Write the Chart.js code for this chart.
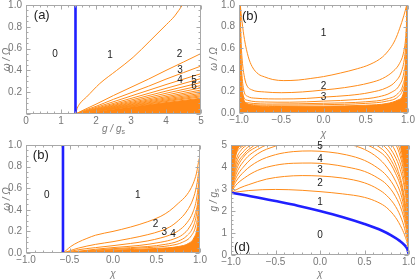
<!DOCTYPE html>
<html><head><meta charset="utf-8">
<script src="https://cdn.jsdelivr.net/npm/chart.js@4/dist/chart.umd.min.js"></script>
<style>
html,body{margin:0;padding:0;background:#fff;}
body{width:415px;height:280px;position:relative;overflow:hidden;}
canvas{position:absolute;}
</style></head><body>
<canvas id="ca" width="207" height="140" style="left:0;top:0"></canvas>
<canvas id="cb" width="208" height="140" style="left:207px;top:0"></canvas>
<canvas id="cc" width="207" height="140" style="left:0;top:140px"></canvas>
<canvas id="cd" width="208" height="140" style="left:207px;top:140px"></canvas>
<script>
// ---------- tick labels ----------
const gTicks = ['0','1','2','3','4','5'];
const wTicksA = ['','0.2','0.4','0.6','0.8','1.0'];
const wTicks = ['0.0','0.2','0.4','0.6','0.8','1.0'];
const chiTicks = ['\u22121.0','\u22120.5','0.0','0.5','1.0'];
const gTicksD = ['0','1','2','3','4','5'];

// ---------- region labels ----------
const aLabels = ['0','1','2','3','4','5','6'];
const bLabels = ['1','2','3'];
const cLabels = ['0','1','2','3','4'];
const dLabels = ['0','1','2','3','4','5'];
const panelTags = ['(a)','(b)','(b)','(d)'];

// ---------- panel (a): omega vs g ----------
const aBlue = [[1.414,0],[1.414,1]];
const a1 = [[1.414,0],[1.46,0.05],[1.55,0.10],[1.73,0.156],[2.11,0.28],[2.59,0.40],[3.06,0.52],[3.54,0.67],[4.01,0.82],[4.25,0.9],[4.47,1.0]];
const a2 = [[1.414,0],[1.6,0.03],[2,0.09],[2.5,0.17],[3,0.245],[3.5,0.32],[4,0.4],[4.5,0.477],[5,0.555]];
const a3 = [[1.414,0],[1.6,0.025],[2,0.07],[2.5,0.135],[3,0.195],[3.5,0.255],[4,0.32],[4.5,0.38],[5,0.44]];
const a4 = [[1.414,0],[2,0.06],[3,0.165],[4,0.27],[5,0.37]];
const a5 = [[1.414,0],[2,0.052],[3,0.143],[4,0.235],[5,0.325]];
const a6 = [[1.414,0],[2,0.046],[3,0.128],[4,0.21],[5,0.29]];
const a7 = [[1.414,0],[2,0.042],[3,0.116],[4,0.19],[5,0.262]];
const a8 = [[1.414,0],[2,0.039],[3,0.106],[4,0.173],[5,0.24]];
const a9 = [[1.414,0],[2,0.036],[3,0.098],[4,0.159],[5,0.22]];
const a10 = [[1.414,0],[2,0.033],[3,0.091],[4,0.148],[5,0.205]];
const a11 = [[1.414,0],[2,0.031],[3,0.085],[4,0.138],[5,0.19]];
const a12 = [[1.414,0],[2,0.029],[3,0.079],[4,0.129],[5,0.178]];
const a13 = [[1.414,0],[2,0.027],[3,0.074],[4,0.121],[5,0.167]];
const a14 = [[1.414,0],[2,0.026],[3,0.07],[4,0.114],[5,0.157]];
const aDense = [[1.414,0],[2,0.024],[3,0.065],[4,0.105],[5,0.145]];

// ---------- panel (b): omega vs chi ----------
const b1 = [[-0.985,1],[-0.965,0.85],[-0.935,0.68],[-0.89,0.52],[-0.845,0.43],[-0.77,0.36],[-0.7,0.335],[-0.6,0.31],[-0.47,0.30],[-0.3,0.305],[-0.15,0.32],[0,0.337],[0.2,0.37],[0.4,0.41],[0.55,0.45],[0.7,0.52],[0.79,0.6],[0.85,0.68],[0.9,0.78],[0.95,0.9],[0.985,1.0]];
const b2 = [[-0.99,1],[-0.978,0.7],[-0.962,0.49],[-0.935,0.33],[-0.91,0.26],[-0.85,0.215],[-0.7,0.195],[-0.5,0.188],[-0.25,0.195],[0,0.213],[0.25,0.235],[0.55,0.28],[0.7,0.32],[0.83,0.39],[0.9,0.46],[0.95,0.57],[0.975,0.72],[0.995,1.0]];
const b3 = [[-0.993,1],[-0.982,0.6],[-0.965,0.35],[-0.94,0.2],[-0.9,0.155],[-0.8,0.137],[-0.5,0.13],[-0.2,0.135],[0,0.147],[0.3,0.163],[0.55,0.19],[0.75,0.235],[0.85,0.29],[0.92,0.38],[0.96,0.52],[0.985,0.75],[0.997,1]];
const b4 = [[-0.995,1],[-0.985,0.55],[-0.97,0.28],[-0.95,0.16],[-0.9,0.118],[-0.7,0.102],[-0.4,0.1],[0,0.11],[0.4,0.125],[0.65,0.15],[0.8,0.19],[0.9,0.26],[0.95,0.37],[0.98,0.58],[0.997,1]];
const b5 = [[-0.996,1],[-0.987,0.5],[-0.974,0.24],[-0.955,0.13],[-0.9,0.095],[-0.6,0.083],[0,0.09],[0.5,0.104],[0.75,0.13],[0.88,0.18],[0.94,0.26],[0.975,0.42],[0.993,0.7],[0.999,1]];
const b6 = [[-0.997,1],[-0.989,0.45],[-0.977,0.2],[-0.96,0.11],[-0.9,0.081],[-0.6,0.072],[0,0.077],[0.5,0.089],[0.75,0.11],[0.88,0.15],[0.94,0.22],[0.975,0.35],[0.993,0.6],[0.999,1]];
const bDense = [[-1,1],[-0.985,1],[-0.978,0.6],[-0.968,0.3],[-0.95,0.15],[-0.91,0.09],[-0.8,0.068],[-0.5,0.06],[0,0.063],[0.5,0.072],[0.75,0.088],[0.88,0.12],[0.95,0.2],[0.97,0.4],[0.98,0.7],[0.985,1],[1,1]];

// ---------- panel (c): omega vs chi, threshold ----------
const cBlue = [[-0.575,0],[-0.575,1]];
const c1 = [[-0.575,0],[-0.53,0.03],[-0.49,0.058],[-0.4,0.1],[-0.3,0.135],[-0.2,0.165],[0,0.2],[0.2,0.24],[0.4,0.29],[0.55,0.34],[0.65,0.39],[0.75,0.46],[0.85,0.54],[0.92,0.64],[0.96,0.74],[0.99,0.87],[1,0.89]];
const c2 = [[-0.575,0],[-0.5,0.02],[-0.4,0.045],[-0.2,0.08],[0,0.105],[0.2,0.135],[0.4,0.17],[0.55,0.205],[0.65,0.24],[0.75,0.3],[0.85,0.39],[0.92,0.5],[0.96,0.62],[0.99,0.78],[1,0.85]];
const c3 = [[-0.575,0],[-0.4,0.03],[-0.2,0.05],[0,0.068],[0.2,0.088],[0.4,0.112],[0.55,0.14],[0.65,0.165],[0.75,0.205],[0.85,0.28],[0.92,0.38],[0.96,0.5],[0.99,0.7],[1,0.82]];
const c4 = [[-0.575,0],[-0.2,0.035],[0,0.05],[0.3,0.07],[0.55,0.1],[0.7,0.13],[0.8,0.17],[0.88,0.24],[0.94,0.35],[0.98,0.52],[1,0.8]];
const c5 = [[-0.575,0],[0,0.04],[0.4,0.06],[0.6,0.08],[0.75,0.11],[0.85,0.16],[0.92,0.24],[0.96,0.36],[0.99,0.58],[1,0.78]];
const c6 = [[-0.575,0],[0,0.033],[0.4,0.05],[0.65,0.068],[0.8,0.1],[0.9,0.16],[0.95,0.25],[0.98,0.4],[1,0.75]];
const cDense = [[-0.575,0],[0,0.026],[0.5,0.042],[0.75,0.06],[0.87,0.09],[0.93,0.14],[0.97,0.25],[0.99,0.45],[1,0.72]];

// ---------- panel (d): g vs chi ----------
const dBlue = [[-1,2.83],[-0.75,2.65],[-0.5,2.45],[-0.25,2.24],[0,2.0],[0.25,1.73],[0.5,1.41],[0.7,1.1],[0.8,0.89],[0.9,0.63],[0.95,0.45],[0.98,0.28],[1,0]];
const d1 = [[-1,2.83],[-0.8,2.93],[-0.5,2.98],[-0.2,2.94],[0,2.88],[0.25,2.78],[0.5,2.62],[0.65,2.4],[0.75,2.15],[0.85,1.7],[0.92,1.2],[0.96,0.8],[0.99,0.35],[1,0]];
const d2 = [[-1,2.83],[-0.9,3.05],[-0.8,3.2],[-0.6,3.45],[-0.4,3.57],[-0.2,3.61],[0,3.59],[0.25,3.5],[0.5,3.28],[0.65,3.0],[0.75,2.7],[0.85,2.2],[0.92,1.6],[0.96,1.05],[0.99,0.45],[1,0]];
const d3 = [[-1,2.83],[-0.95,3.15],[-0.85,3.5],[-0.7,3.85],[-0.5,4.08],[-0.3,4.17],[-0.1,4.18],[0.1,4.13],[0.3,4.0],[0.5,3.8],[0.65,3.5],[0.75,3.2],[0.85,2.65],[0.92,2.0],[0.96,1.35],[0.99,0.55],[1,0]];
const d4 = [[-1,2.83],[-0.95,3.3],[-0.85,3.8],[-0.7,4.25],[-0.5,4.56],[-0.3,4.7],[-0.1,4.73],[0.1,4.68],[0.3,4.55],[0.5,4.3],[0.65,3.95],[0.75,3.6],[0.85,3.0],[0.92,2.3],[0.96,1.55],[0.99,0.65],[1,0]];
const d5 = [[-1,2.83],[-0.95,3.45],[-0.85,4.05],[-0.7,4.6],[-0.5,4.95],[-0.3,5.15],[-0.1,5.22],[0.1,5.18],[0.3,5.06],[0.5,4.8],[0.65,4.42],[0.75,4.0],[0.85,3.35],[0.92,2.6],[0.96,1.75],[0.99,0.75],[1,0]];
const d6 = [[-1,2.83],[-0.95,3.6],[-0.85,4.3],[-0.7,4.8],[-0.5,5.15],[0,5.7],[0.5,5.05],[0.65,4.75],[0.75,4.4],[0.85,3.7],[0.92,2.9],[0.96,1.95],[0.99,0.85],[1,0]];
const d7 = [[-1,2.83],[-0.95,3.75],[-0.85,4.5],[-0.7,4.95],[-0.6,5.2],[0,6],[0.55,5.2],[0.65,4.95],[0.75,4.6],[0.85,3.9],[0.92,3.1],[0.96,2.1],[0.99,0.95],[1,0]];
const d8 = [[-1,2.83],[-0.95,3.9],[-0.85,4.6],[-0.75,4.95],[-0.7,5.1],[0,6.5],[0.65,5.15],[0.72,4.95],[0.8,4.55],[0.88,3.8],[0.93,3.05],[0.97,2.0],[0.99,1.05],[1,0]];
const d9 = [[-1,2.83],[-0.95,4.05],[-0.85,4.75],[-0.78,5.0],[-0.7,5.3],[0.7,5.3],[0.76,5.0],[0.84,4.5],[0.9,3.9],[0.95,3.0],[0.98,1.9],[1,0]];
const d10 = [[-1,2.83],[-0.95,4.2],[-0.88,4.8],[-0.82,5.0],[-0.75,5.3],[0.75,5.3],[0.81,5.0],[0.87,4.5],[0.92,3.9],[0.96,2.9],[0.985,1.8],[1,0]];
const d11 = [[-1,2.83],[-0.95,4.45],[-0.9,4.85],[-0.85,5.0],[-0.8,5.3],[0.8,5.3],[0.855,5.0],[0.9,4.5],[0.94,3.8],[0.97,2.9],[0.99,1.6],[1,0]];
const d12 = [[-1,2.83],[-0.95,4.7],[-0.875,5.0],[-0.85,5.3],[0.85,5.3],[0.88,5.0],[0.92,4.4],[0.955,3.6],[0.98,2.6],[0.995,1.3],[1,0]];
const dDenseL = [[-1,2.83],[-0.975,3.9],[-0.95,4.5],[-0.92,4.85],[-0.9,5]];
const dDenseR = [[0.9,5],[0.935,4.3],[0.965,3.4],[0.985,2.3],[0.997,1.0],[1,0]];

// ---------- helpers ----------
const ORANGE = '#ff8c1a';
const FILL = 'rgb(255,135,20)';
const BLUE = '#2020ff';
const FONT = 'Liberation Sans, Arial, sans-serif';
const P = a => a.map(p => ({x: p[0], y: p[1]}));
function ln(d, extra) {
  return Object.assign({data: P(d), borderColor: ORANGE, borderWidth: 1, pointRadius: 0,
    fill: false, cubicInterpolationMode: 'monotone', order: 5}, extra || {});
}
function blue(d, straight) {
  return ln(d, Object.assign({borderColor: BLUE, borderWidth: 2.6, order: 1},
    straight ? {cubicInterpolationMode: 'default', tension: 0} : {}));
}
function dense(d, to) {
  return ln(d, {fill: to, backgroundColor: FILL, borderColor: FILL, order: 9});
}

const framePlugin = {
  id: 'frame',
  afterDatasetsDraw(chart, args, o) {
    const {ctx, chartArea: a, scales: {x, y}} = chart;
    ctx.save();
    const L = Math.round(a.left) + 0.5, R = Math.round(a.right) - 0.5;
    const T = Math.round(a.top) + 0.5, B = Math.round(a.bottom) - 0.5;
    ctx.strokeStyle = '#a8a8a8'; ctx.lineWidth = 1;
    ctx.strokeRect(L, T, R - L, B - T);
    ctx.beginPath();
    const nx = Math.round((x.max - x.min) / o.mx);
    for (let i = 0; i <= nx; i++) {
      const v = x.min + i * o.mx;
      const major = Math.abs(v / o.Mx - Math.round(v / o.Mx)) < 1e-6;
      const len = major ? 4 : 2;
      const px = Math.round(x.getPixelForValue(v)) + 0.5;
      ctx.moveTo(px, B); ctx.lineTo(px, B - len);
      ctx.moveTo(px, T); ctx.lineTo(px, T + len);
    }
    const ny = Math.round((y.max - y.min) / o.my);
    for (let i = 0; i <= ny; i++) {
      const v = y.min + i * o.my;
      const major = Math.abs(v / o.My - Math.round(v / o.My)) < 1e-6;
      const len = major ? 4 : 2;
      const py = Math.round(y.getPixelForValue(v)) + 0.5;
      ctx.moveTo(L, py); ctx.lineTo(L + len, py);
      ctx.moveTo(R, py); ctx.lineTo(R - len, py);
    }
    ctx.stroke();
    // region labels
    ctx.fillStyle = '#222';
    ctx.textAlign = 'center'; ctx.textBaseline = 'middle';
    ctx.font = '10px ' + FONT;
    o.texts.forEach((t, i) => {
      ctx.fillText(t, x.getPixelForValue(o.pos[i][0]), y.getPixelForValue(o.pos[i][1]));
    });
    ctx.font = '13px ' + FONT;
    ctx.fillText(o.tag, x.getPixelForValue(o.tagPos[0]), y.getPixelForValue(o.tagPos[1]));
    // axis titles
    ctx.fillStyle = '#7a7a7a';
    const cx = (a.left + a.right) / 2, cy = (a.top + a.bottom) / 2;
    drawTitle(ctx, o.xTitle, cx, o.xTitleY, 0);
    drawTitle(ctx, o.yTitle, 7, cy, -Math.PI / 2);
    ctx.restore();
  }
};
function drawTitle(ctx, parts, x, y, rot) {
  ctx.save();
  ctx.translate(x, y); ctx.rotate(rot);
  let w = 0;
  parts.forEach(p => { ctx.font = (p.sub ? '7px ' : 'italic 10px ') + FONT; w += ctx.measureText(p.t).width; });
  let cur = -w / 2;
  ctx.textAlign = 'left'; ctx.textBaseline = 'middle';
  parts.forEach(p => {
    ctx.font = (p.sub ? '7px ' : 'italic 10px ') + FONT;
    ctx.fillText(p.t, cur, p.sub ? 3 : 0);
    cur += ctx.measureText(p.t).width;
  });
  ctx.restore();
}

function makeChart(id, datasets, cfg) {
  const W = cfg.W, H = 140;
  return new Chart(document.getElementById(id), {
    type: 'line',
    data: {datasets},
    options: {
      responsive: false, animation: false, devicePixelRatio: 1,
      layout: {padding: {left: 0, top: 5, right: W - cfg.right, bottom: 0}},
      plugins: {legend: {display: false}, tooltip: {enabled: false}, frame: cfg.frame},
      scales: {
        x: {type: 'linear', position: 'bottom', min: cfg.xr[0], max: cfg.xr[1],
          ticks: {stepSize: cfg.xs, autoSkip: false, maxRotation: 0, minRotation: 0, padding: 1,
            color: '#777', font: {family: FONT, size: 10}, callback: (v, i) => cfg.xl[i]},
          grid: {display: false, drawTicks: false}, border: {display: false},
          afterFit(s) { s.height = H - cfg.bottom; s.paddingLeft = 0; s.paddingRight = 0; }},
        y: {type: 'linear', position: 'left', min: cfg.yr[0], max: cfg.yr[1],
          ticks: {stepSize: cfg.ys, autoSkip: false, padding: 4,
            color: '#777', font: {family: FONT, size: 10}, callback: (v, i) => cfg.yl[i]},
          grid: {display: false, drawTicks: false}, border: {display: false},
          afterFit(s) { s.width = cfg.left; s.paddingTop = 0; s.paddingBottom = 0; }}
      }
    },
    plugins: [framePlugin]
  });
}

const wTitle = [{t: '\u03c9 / \u03a9'}];
const gTitle = [{t: 'g / g'}, {t: 's', sub: true}];
const chiTitle = [{t: '\u03c7'}];

// (a)
makeChart('ca', [
  blue(aBlue, true),
  ...[a1, a2, a3, a4, a5, a6, a7, a8, a9, a10, a11, a12, a13, a14].map(d => ln(d)),
  dense(aDense, 'origin')
], {W: 207, left: 26, right: 201, bottom: 114, xr: [0, 5], xs: 1, yr: [0, 1], ys: 0.2,
  xl: gTicks, yl: wTicksA,
  frame: {Mx: 1, mx: 0.2, My: 0.2, my: 0.05, texts: aLabels,
    pos: [[0.83,0.55],[2.4,0.54],[4.39,0.55],[4.4,0.40],[4.4,0.31],[4.8,0.31],[4.8,0.255]],
    tag: panelTags[0], tagPos: [0.45, 0.9], xTitle: gTitle, xTitleY: 129, yTitle: wTitle}});

// (b) top right
makeChart('cb', [
  ...[b1, b2, b3, b4, b5, b6].map(d => ln(d)),
  dense(bDense, 'origin')
], {W: 208, left: 32, right: 201, bottom: 113, xr: [-1, 1], xs: 0.5, yr: [0, 1], ys: 0.2,
  xl: chiTicks, yl: wTicks,
  frame: {Mx: 0.5, mx: 0.1, My: 0.2, my: 0.05, texts: bLabels,
    pos: [[0, 0.74], [0, 0.25], [0, 0.15]],
    tag: panelTags[1], tagPos: [-0.87, 0.89], xTitle: chiTitle, xTitleY: 134, yTitle: wTitle}});

// (c) bottom left
makeChart('cc', [
  blue(cBlue, true),
  ...[c1, c2, c3, c4, c5, c6].map(d => ln(d)),
  dense(cDense, 'origin')
], {W: 207, left: 26, right: 200, bottom: 113, xr: [-1, 1], xs: 0.5, yr: [0, 1], ys: 0.2,
  xl: chiTicks, yl: wTicks,
  frame: {Mx: 0.5, mx: 0.1, My: 0.2, my: 0.05, texts: cLabels,
    pos: [[-0.76, 0.537], [0.284, 0.537], [0.49, 0.265], [0.59, 0.19], [0.69, 0.176]],
    tag: panelTags[2], tagPos: [-0.83, 0.9], xTitle: chiTitle, xTitleY: 134, yTitle: wTitle}});

// (d) bottom right
makeChart('cd', [
  blue(dBlue, false),
  ...[d1, d2, d3, d4, d5, d6, d7, d8, d9, d10, d11, d12].map(d => ln(d)),
  dense(dDenseL, 'end'), dense(dDenseR, 'end')
], {W: 208, left: 24, right: 202, bottom: 115, xr: [-1, 1], xs: 0.5, yr: [0, 5], ys: 1,
  xl: chiTicks, yl: gTicksD,
  frame: {Mx: 0.5, mx: 0.1, My: 1, my: 0.2, texts: dLabels,
    pos: [[0, 0.88], [0, 2.42], [0, 3.26], [0, 3.83], [0, 4.35], [0, 4.95]],
    tag: panelTags[3], tagPos: [-0.876, 0.36], xTitle: chiTitle, xTitleY: 134, yTitle: gTitle}});
</script>
</body></html>
